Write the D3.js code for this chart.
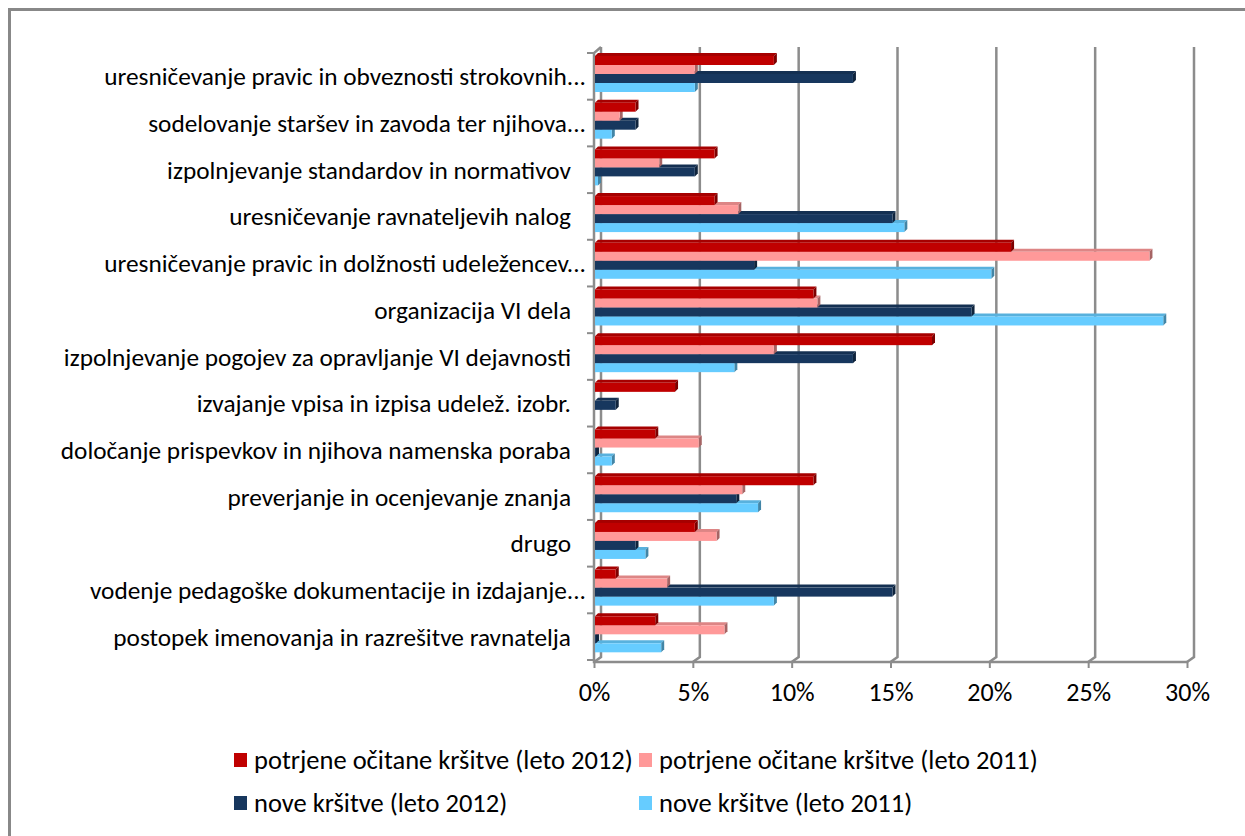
<!DOCTYPE html>
<html>
<head>
<meta charset="utf-8">
<script src="https://cdn.jsdelivr.net/npm/d3@7"></script>
<style>
body { margin:0; background:#fff; }
text { font-family: Carlito, Lato, "Liberation Sans", sans-serif; fill:#000; }
.catlabel { font-size:25.3px; }
.ticklabel { font-size:26px; }
.legend_text { font-size:26.5px; }
</style>
</head>
<body>
<div id="chart"></div>
<script>
var categories = [
  "uresničevanje pravic in obveznosti strokovnih...",
  "sodelovanje staršev in zavoda ter njihova...",
  "izpolnjevanje standardov in normativov",
  "uresničevanje ravnateljevih nalog",
  "uresničevanje pravic in dolžnosti udeležencev...",
  "organizacija VI dela",
  "izpolnjevanje pogojev za opravljanje VI dejavnosti",
  "izvajanje vpisa in izpisa udelež. izobr.",
  "določanje prispevkov in njihova namenska poraba",
  "preverjanje in ocenjevanje znanja",
  "drugo",
  "vodenje pedagoške dokumentacije in izdajanje...",
  "postopek imenovanja in razrešitve ravnatelja"
];
var seriesNames = [
  "potrjene očitane kršitve (leto 2012)",
  "potrjene očitane kršitve (leto 2011)",
  "nove kršitve (leto 2012)",
  "nove kršitve (leto 2011)"
];
var seriesColors = ["#c00000", "#ff9999", "#17375e", "#66ccff"];
// values in %
var potrjene2012 = [9.1, 2.1, 6.1, 6.1, 21.1, 11.1, 17.1, 4.1, 3.1, 11.1, 5.1, 1.1, 3.1];
var potrjene2011 = [5.1, 1.3, 3.3, 7.3, 28.1, 11.3, 9.1, 0, 5.3, 7.5, 6.2, 3.7, 6.6];
var nove2012 = [13.1, 2.1, 5.1, 15.1, 8.1, 19.1, 13.1, 1.1, 0.1, 7.2, 2.1, 15.1, 0.1];
var nove2011 = [5.1, 0.9, 0.2, 15.7, 20.1, 28.8, 7.1, 0, 0.9, 8.3, 2.6, 9.1, 3.4];
var ticks = [0, 5, 10, 15, 20, 25, 30];

var draw = function(){
  var series = [potrjene2012, potrjene2011, nove2012, nove2011];
  var svg = d3.select("#chart").append("svg").attr("width", 1245).attr("height", 836);

  // outer frame (runs off the right/bottom edge)
  svg.append("rect").attr("x", 9.5).attr("y", 9.5).attr("width", 1260).attr("height", 860)
    .attr("fill", "none").attr("stroke", "#888888").attr("stroke-width", 3);

  var x = d3.scaleLinear().domain([0, 30]).range([594, 1187]);
  var y = d3.scaleBand().domain(categories).range([53, 660]);
  var ys = d3.scaleBand().domain([0, 1, 2, 3]).range([0, 36]);
  var dx = 7, dy = 5; // depth of the back wall

  // back wall gridlines, bending onto the floor
  svg.append("g").selectAll(".grid").data(ticks).enter()
    .append("path").attr("class", "grid")
    .attr("fill", "none").attr("stroke", "#8c8c8c").attr("stroke-width", 2.5)
    .attr("d", function(d){
      return "M" + (x(d) + dx) + ",47 L" + (x(d) + dx) + "," + (662 - dy) + " L" + x(d) + ",662";
    });

  // left axis + floor
  svg.append("path").attr("fill", "none").attr("stroke", "#8c8c8c").attr("stroke-width", 2.5)
    .attr("d", "M" + (x(0) + dx) + ",47 L" + x(0) + ",53 L" + x(0) + ",662 L" + x(30) + ",662");

  svg.append("g").selectAll(".ytick").data(d3.range(categories.length + 1)).enter()
    .append("line").attr("class", "ytick")
    .attr("x1", 587).attr("x2", 594)
    .attr("y1", function(d){ return 53 + d * y.step(); })
    .attr("y2", function(d){ return 53 + d * y.step(); })
    .attr("stroke", "#8c8c8c").attr("stroke-width", 2);

  var xAxis = d3.axisBottom(x).tickValues(ticks).tickSize(6)
    .tickFormat(function(d){ return d + "%"; });
  var gx = svg.append("g").attr("transform", "translate(0,662)").call(xAxis);
  gx.select(".domain").remove();
  gx.selectAll(".tick line").attr("stroke", "#8c8c8c").attr("stroke-width", 2);
  gx.selectAll(".tick text").attr("class", "ticklabel").attr("dy", null).attr("y", 39)
    .style("font-family", null).style("font-size", null);
  gx.attr("font-family", null).attr("font-size", null);

  // bars, drawn bottom series first so upper bars cover top faces
  for (var c = 0; c < categories.length; c++) {
    var g = svg.append("g");
    for (var k = series.length - 1; k >= 0; k--) {
      var v = series[k][c];
      if (v <= 0) continue;
      var x0 = x(0) + 1, x1 = x(v);
      var top = y(categories[c]) + 3 + ys(k), h = ys.bandwidth();
      var col = d3.color(seriesColors[k]);
      var e = 3;
      g.append("path").attr("fill", col.darker(0.4))
        .attr("d", "M" + x0 + "," + top + " L" + (x0 + e) + "," + (top - e) + " L" + (x1 + e) + "," + (top - e) + " L" + x1 + "," + top + "Z");
      g.append("path").attr("fill", col.darker(1.2))
        .attr("d", "M" + x1 + "," + top + " L" + (x1 + e) + "," + (top - e) + " L" + (x1 + e) + "," + (top + h - e) + " L" + x1 + "," + (top + h) + "Z");
      g.append("rect").attr("x", x0).attr("y", top).attr("width", Math.max(0, x1 - x0)).attr("height", h)
        .attr("fill", seriesColors[k]);
    }
  }

  svg.append("g").selectAll(".catlabel").data(categories).enter()
    .append("text").attr("class", "catlabel")
    .attr("text-anchor", "end")
    .attr("x", function(d){ return /\.\.\.$/.test(d) ? 586 : 571; })
    .attr("y", function(d){ return y(d) + y.bandwidth() / 2 + 9; })
    .text(function(d){ return d; });

  // legend
  var legPos = [[234, 760], [639, 760], [234, 803], [639, 803]];
  var leg = svg.append("g");
  leg.selectAll(".legend_box").data(seriesNames).enter()
    .append("rect").attr("class", "legend_box")
    .attr("x", function(d, i){ return legPos[i][0]; })
    .attr("y", function(d, i){ return legPos[i][1] - 7; })
    .attr("width", 13).attr("height", 14)
    .attr("fill", function(d, i){ return seriesColors[i]; });
  leg.selectAll(".legend_text").data(seriesNames).enter()
    .append("text").attr("class", "legend_text")
    .attr("x", function(d, i){ return legPos[i][0] + 20; })
    .attr("y", function(d, i){ return legPos[i][1] + 9; })
    .text(function(d){ return d; });
};

window.onload = function(){
  draw();
};
</script>
</body>
</html>
